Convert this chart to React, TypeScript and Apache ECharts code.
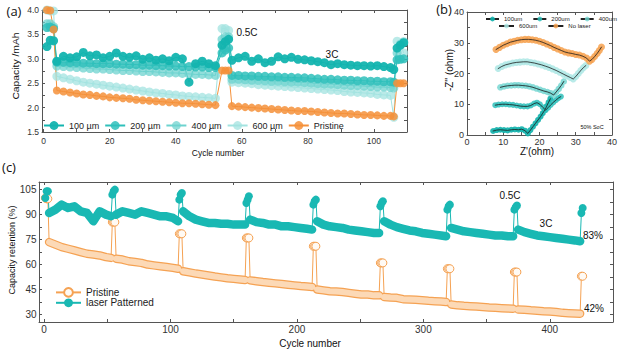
import React, { useEffect, useRef } from "react";
import * as echarts from "echarts";

// ---------- Panel (a): capacity vs cycle ----------
const cyclesA = [1, 2, 3, 4, 6, 8, 10, 12, 14, 16, 18, 20, 22, 24, 26, 28, 30, 32, 34, 36, 38, 40, 42, 44, 46, 48, 50, 52, 54, 55, 56, 57, 59, 61, 63, 65, 67, 69, 71, 73, 75, 77, 79, 81, 83, 85, 87, 89, 91, 93, 95, 97, 99, 101, 103, 105, 106, 107, 108, 109];
const cap100 = [3.25, 3.38, 3.37,
  2.95, 3.05, 3.02, 3.04, 3.13, 3.06, 3.08, 3.02, 3.05, 3.12, 3.05, 3.03, 3.06, 2.99, 3.02, 2.97, 3.0, 2.96, 3.03, 3.0, 2.52, 2.9, 2.95, 2.9, 2.86,
  3.28, 3.35, 3.4,
  2.97, 3.02, 3.05, 2.95, 3.0, 2.92, 2.95, 3.04, 3.0, 3.03, 2.99, 2.98, 2.96, 2.94, 2.92, 2.88, 2.9, 2.88, 2.87, 2.86, 2.86, 2.85, 2.86, 2.84, 2.82, 2.78,
  3.22, 3.28, 3.33];
const cap200 = [3.64, 3.65, 3.62,
  2.93, 2.93, 2.92, 2.92, 2.91, 2.91, 2.9, 2.9, 2.9, 2.89, 2.89, 2.88, 2.88, 2.87, 2.87, 2.86, 2.86, 2.85, 2.85, 2.84, 2.84, 2.83, 2.83, 2.82, 2.82,
  3.12, 3.18, 3.22,
  2.66, 2.66, 2.65, 2.65, 2.64, 2.64, 2.63, 2.63, 2.62, 2.62, 2.61, 2.61, 2.6, 2.59, 2.58, 2.58, 2.57, 2.56, 2.56, 2.55, 2.55, 2.54, 2.54, 2.53, 2.53, 2.52,
  2.98, 2.99, 3.0];
const cap400 = [3.72, 3.72, 3.66,
  2.85, 2.84, 2.83, 2.82, 2.81, 2.8, 2.79, 2.79, 2.78, 2.77, 2.76, 2.76, 2.75, 2.74, 2.74, 2.73, 2.72, 2.71, 2.71, 2.7, 2.69, 2.68, 2.68, 2.67, 2.66,
  3.4, 3.45, 3.45,
  2.58, 2.58, 2.57, 2.56, 2.56, 2.55, 2.54, 2.54, 2.53, 2.52, 2.52, 2.51, 2.5, 2.49, 2.48, 2.48, 2.47, 2.46, 2.45, 2.45, 2.44, 2.43, 2.42, 2.42, 2.41, 2.4,
  3.12, 3.3, 3.35];
const cap600 = [4.0, 3.98, 3.98,
  2.64, 2.61, 2.58, 2.55, 2.52, 2.5, 2.48, 2.46, 2.44, 2.42, 2.4, 2.38, 2.36, 2.34, 2.32, 2.3, 2.29, 2.27, 2.26, 2.24, 2.23, 2.22, 2.21, 2.2, 2.19,
  3.62, 3.62, 3.58,
  2.52, 2.51, 2.5, 2.49, 2.47, 2.46, 2.45, 2.44, 2.43, 2.42, 2.41, 2.4, 2.39, 2.38, 2.37, 2.36, 2.35, 2.33, 2.32, 2.31, 2.3, 2.29, 2.27, 2.26, 2.25, 1.8,
  3.36, 3.3, 3.12];
const capPristine = [4.0, 3.99, 3.6,
  2.35, 2.33, 2.31, 2.29, 2.27, 2.26, 2.24, 2.23, 2.21, 2.2, 2.19, 2.18, 2.16, 2.15, 2.14, 2.13, 2.12, 2.11, 2.1, 2.09, 2.09, 2.08, 2.07, 2.06, 2.05,
  2.76, 2.76, 2.76,
  2.03, 2.02, 2.01, 2.0, 1.99, 1.98, 1.97, 1.96, 1.95, 1.94, 1.93, 1.93, 1.92, 1.91, 1.9, 1.89, 1.88, 1.88, 1.87, 1.86, 1.85, 1.85, 1.84, 1.83, 1.83, 1.82,
  2.5, 2.5, 2.5];
const ticksAx = [0, 10, 20, 30, 40, 50, 60, 70, 80, 90, 100, 110];
const labelsAx = [0, 20, 40, 60, 80, 100];
const ticksAy = [1.5, 1.75, 2.0, 2.25, 2.5, 2.75, 3.0, 3.25, 3.5, 3.75, 4.0];
const labelsAy = [1.5, 2.0, 2.5, 3.0, 3.5, 4.0];

// ---------- Panel (b): Nyquist ----------
const z100Re = [7.2, 8.2, 9.2, 10.2, 11.2, 12.2, 13.2, 14.2, 15.1, 16.0, 16.8, 17.5, 18.2, 18.9, 19.6, 20.3, 20.9, 21.5, 22.0, 22.5, 23.0];
const z100Im = [1.3, 1.6, 1.7, 1.6, 1.5, 1.7, 1.8, 1.7, 1.9, 1.4, 0.5, 1.6, 2.7, 3.8, 4.9, 6.0, 7.1, 8.2, 9.4, 10.6, 11.8];
const z200Re = [7.8, 8.7, 9.7, 10.7, 11.7, 12.7, 13.7, 14.7, 15.7, 16.7, 17.6, 18.5, 19.3, 20.1, 20.9, 21.7, 22.4, 23.1, 23.8, 24.5, 25.2, 25.9];
const z200Im = [9.7, 9.9, 10.0, 10.0, 9.9, 9.8, 9.6, 9.4, 9.3, 9.3, 9.6, 10.2, 10.5, 10.0, 9.0, 8.1, 8.9, 9.8, 10.6, 11.3, 12.0, 12.5];
const z400Re = [9.2, 10.2, 11.2, 12.2, 13.2, 14.2, 15.2, 16.2, 17.2, 18.2, 19.2, 20.2, 21.2, 22.2, 23.1, 23.9, 24.6, 25.3, 26.0, 26.7];
const z400Im = [15.5, 15.8, 16.0, 16.1, 16.2, 16.2, 16.1, 16.0, 15.8, 15.5, 15.1, 14.7, 14.3, 14.0, 13.6, 13.0, 14.0, 15.0, 16.1, 17.4];
const z600Re = [8.6, 9.6, 10.6, 11.6, 12.6, 13.6, 14.6, 15.6, 16.6, 17.6, 18.6, 19.6, 20.6, 21.6, 22.6, 23.6, 24.6, 25.6, 26.6, 27.6, 28.5, 29.3, 30.0, 30.7, 31.4, 32.1, 32.8];
const z600Im = [21.6, 22.3, 22.8, 23.1, 23.4, 23.6, 23.7, 23.8, 23.8, 23.6, 23.4, 23.1, 22.8, 22.4, 22.0, 21.5, 21.0, 20.4, 19.8, 19.2, 18.7, 18.2, 19.0, 20.0, 21.0, 21.9, 22.6];
const zNoRe = [8.0, 9.0, 10.0, 11.0, 12.0, 13.0, 14.0, 15.0, 16.0, 17.0, 18.0, 19.0, 20.0, 21.0, 22.0, 23.0, 24.0, 25.0, 26.0, 27.0, 28.0, 29.0, 30.0, 31.0, 32.0, 33.0, 33.8, 34.5, 35.2, 35.9, 36.5, 37.1];
const zNoIm = [27.8, 28.5, 29.2, 29.7, 30.2, 30.5, 30.8, 31.0, 31.1, 31.1, 31.0, 30.8, 30.5, 30.1, 29.6, 29.1, 28.5, 28.0, 27.5, 27.0, 26.7, 26.5, 26.2, 26.0, 25.6, 25.0, 24.0, 24.6, 25.5, 26.5, 27.5, 28.6];
const ticksB = [0, 5, 10, 15, 20, 25, 30, 35, 40];
const labelsB = [0, 10, 20, 30, 40];

// ---------- Panel (c): retention ----------
const cyclesC = [1, 2, 3,
  4, 9, 14, 19, 24, 29, 34, 39, 44, 49, 53, 54, 55, 56,
  57, 62, 67, 72, 77, 82, 87, 92, 97, 102, 106, 107, 108, 109,
  110, 115, 120, 125, 130, 135, 140, 145, 150, 155, 159, 160, 161, 162,
  163, 168, 173, 178, 183, 188, 193, 198, 203, 208, 212, 213, 214, 215,
  216, 221, 226, 231, 236, 241, 246, 251, 256, 261, 265, 266, 267, 268,
  269, 274, 279, 284, 289, 294, 299, 304, 309, 314, 318, 319, 320, 321,
  322, 327, 332, 337, 342, 347, 352, 357, 362, 367, 371, 372, 373, 374,
  375, 380, 385, 390, 395, 400, 405, 410, 415, 420, 424, 425, 426];
// cycles run at 0.5C (the short spikes); all others are 3C
const slowCyclesC = [1, 2, 3, 54, 55, 56, 107, 108, 109, 160, 161, 162, 213, 214, 215, 266, 267, 268, 319, 320, 321, 372, 373, 374, 425, 426];
const retLaser = [100, 104, 104,
  91, 93, 96, 94, 95, 92, 91, 86, 92, 90, 89, 102, 104, 105,
  90, 92, 91, 90, 92, 91, 90, 89, 89, 88, 86, 99, 102, 103,
  92, 89, 87, 86, 85, 85, 84.5, 84.5, 84, 84, 84, 97, 99, 101,
  87, 85.5, 85, 84, 84, 83, 83, 82.5, 82, 81.5, 81, 96, 98, 99,
  86, 84, 83, 82.5, 82, 81, 80.5, 80, 79.5, 79, 79, 95, 97, 98,
  86, 84, 82.5, 81.5, 80.5, 80, 79, 78.5, 78, 77.5, 77, 93, 95, 96,
  82, 81, 80, 79.5, 79, 78.5, 78, 77.5, 77.5, 77, 77, 93, 94.5, 95.5,
  81, 79.5, 78.5, 77.5, 77, 76.5, 76, 75.5, 75, 74.5, 74, 91, 94];
const retPristine = [100, 99.5, 99.5,
  73.5, 72, 70.5, 69.5, 68.5, 67.5, 66.5, 66, 65.5, 64.5, 64, 85.5, 85.5, 85.5,
  63.5, 63, 62, 61.5, 61, 60, 59.5, 59, 58.5, 58, 57.5, 78.5, 78.5, 78.5,
  56, 55.3, 54.6, 54, 53.4, 52.8, 52.3, 51.8, 51.4, 51, 50.7, 76, 76, 76,
  50.5, 50, 49.5, 49.1, 48.7, 48.3, 47.9, 47.5, 47.1, 46.8, 46.5, 71, 71, 71,
  45, 44.5, 44, 43.8, 43.5, 43, 42.5, 42, 42, 41.5, 41.5, 61, 61, 61,
  40.5, 40.2, 40, 39.2, 39, 38.8, 38.5, 38.2, 38, 37.8, 37.5, 57.5, 57.5, 57.5,
  36, 35.5, 35.2, 35, 34.8, 34.5, 34.2, 34, 33.8, 33.6, 33.5, 55.5, 55.5, 55.5,
  33, 32.8, 32.5, 32.3, 32, 31.8, 31.5, 31, 30.8, 30.6, 30.5, 53, 53];
const ticksCx = [0, 50, 100, 150, 200, 250, 300, 350, 400, 450];
const labelsCx = [0, 100, 200, 300, 400];
const ticksCy = [30, 37.5, 45, 52.5, 60, 67.5, 75, 82.5, 90, 97.5, 105];
const labelsCy = [30, 45, 60, 75, 90, 105];

const FONT = "'Liberation Sans', Arial, sans-serif";
const AX = "#555";
const TEAL = "#13b4af";
const ORANGE = "#f5913a";
const C_TEAL = "#19b8b3";
const C_ORANGE = "#f5a253";

const pairs = (xs: number[], ys: number[]) => xs.map((x, i) => [x, ys[i]]);

function mkAxis(gridIndex: number, position: string, min: number, max: number, ticks: number[], labels: number[] | null, fontSize: number, margin: number, formatter?: any) {
  return {
    type: "value",
    gridIndex,
    position,
    min,
    max,
    axisLine: { show: true, onZero: false, lineStyle: { color: AX, width: 1 } },
    axisTick: { show: true, inside: true, length: 3, customValues: ticks, lineStyle: { color: AX } },
    axisLabel: labels
      ? { show: true, customValues: labels, fontSize, margin, color: "#333", fontFamily: FONT, formatter }
      : { show: false },
    splitLine: { show: false },
  };
}

function lineSeries(name: string, ax: number, data: any[], color: string, size: any, opacity: number, extra: any = {}) {
  return {
    name,
    type: "line",
    xAxisIndex: ax,
    yAxisIndex: ax,
    data,
    symbol: "circle",
    symbolSize: size,
    showSymbol: true,
    itemStyle: { color, opacity },
    lineStyle: { color, width: 1 },
    emphasis: { disabled: true },
    ...extra,
  };
}

function plainLine(key: string, ax: number, data: any[], color: string, width: number, z: number) {
  return {
    name: "_line_" + key,
    type: "line",
    xAxisIndex: ax,
    yAxisIndex: ax,
    data,
    symbol: "none",
    showSymbol: false,
    connectNulls: false,
    lineStyle: { color, width, cap: "round", join: "round" },
    z,
    emphasis: { disabled: true },
  };
}

const txt = (text: string, x: number, y: number, fontSize: number, extra: any = {}, family: string = FONT) => ({
  type: "text",
  x,
  y,
  silent: true,
  style: { text, fontSize, fontFamily: family, fill: "#111", align: "center", verticalAlign: "middle" },
  ...extra,
});

export default function App() {
  const ref = useRef<HTMLDivElement>(null);
  useEffect(() => {
    if (!ref.current) return;
    const chart = echarts.init(ref.current, undefined, { renderer: "svg" });
    const fmt1 = (v: number) => v.toFixed(1);
    const bLine = { lineStyle: { color: "#222", width: 0.8 } };

    const slow = new Set(slowCyclesC);
    // 3C bands (0.5C cycles left out so each band breaks at the spikes)
    const band = (vals: number[]) => cyclesC.map((c, i) => [c, slow.has(c) ? "-" : vals[i]]);
    const spikeSize = (_v: any, p: any) => (slow.has(cyclesC[p.dataIndex]) ? 8 : 0);

    const option: any = {
      animation: false,
      grid: [
        { left: 42, top: 10, width: 365, height: 122 },
        { left: 467, top: 12, width: 145, height: 123 },
        { left: 39, top: 182, width: 574, height: 140 },
      ],
      xAxis: [
        mkAxis(0, "bottom", -0.5, 110, ticksAx, labelsAx, 8.5, 4),
        mkAxis(0, "top", -0.5, 110, ticksAx, null, 8, 2),
        mkAxis(1, "bottom", 0, 40, ticksB, labelsB, 9, 2),
        mkAxis(1, "top", 0, 40, ticksB, null, 9, 2),
        mkAxis(2, "bottom", -4, 450, ticksCx, labelsCx, 10, 2),
        mkAxis(2, "top", -4, 450, ticksCx, null, 10, 2),
      ],
      yAxis: [
        mkAxis(0, "left", 1.5, 4.0, ticksAy, labelsAy, 8.5, 3, fmt1),
        mkAxis(0, "right", 1.5, 4.0, ticksAy, null, 8, 2),
        mkAxis(1, "left", 0, 40, ticksB, labelsB, 9, 3),
        mkAxis(1, "right", 0, 40, ticksB, null, 9, 2),
        mkAxis(2, "left", 25.5, 109.6, ticksCy, labelsCy, 10, 2.5),
        mkAxis(2, "right", 25.5, 109.6, ticksCy, null, 10, 2),
      ],
      legend: [
        {
          data: ["100 µm", "200 µm", "400 µm", "600 µm", "Pristine"],
          left: 43, top: 121, padding: 0, itemWidth: 20, itemHeight: 11, itemGap: 5,
          selectedMode: false,
          textStyle: { fontSize: 9, fontFamily: FONT, color: "#222" },
        },
        {
          data: ["100um", "200um", "400um"],
          left: 485, top: 16, width: 200, padding: 0, itemWidth: 13, itemHeight: 6, itemGap: 10,
          selectedMode: false,
          textStyle: { fontSize: 6, fontFamily: FONT, color: "#222" },
        },
        {
          data: ["600um", "No laser"],
          left: 498, top: 23, width: 200, padding: 0, itemWidth: 15, itemHeight: 6, itemGap: 10,
          selectedMode: false,
          textStyle: { fontSize: 6, fontFamily: FONT, color: "#222" },
        },
        {
          data: ["Pristine ", "laser Patterned"],
          orient: "vertical",
          left: 55, top: 287, padding: 0, itemWidth: 25, itemHeight: 11, itemGap: 0,
          selectedMode: false,
          formatter: (n: string) => n.trim(),
          textStyle: { fontSize: 10, fontFamily: FONT, color: "#222" },
        },
      ],
      series: [
        // (a)
        lineSeries("600 µm", 0, pairs(cyclesA, cap600), "#a3e3e0", 9, 0.75),
        lineSeries("400 µm", 0, pairs(cyclesA, cap400), "#6dd3cf", 9, 0.75),
        lineSeries("200 µm", 0, pairs(cyclesA, cap200), "#2fc0bb", 9, 0.85),
        lineSeries("100 µm", 0, pairs(cyclesA, cap100), TEAL, 9, 0.95),
        lineSeries("Pristine", 0, pairs(cyclesA, capPristine), ORANGE, 8, 0.85),
        // (b)
        lineSeries("100um", 2, pairs(z100Re, z100Im), "#11b1ac", 6, 0.9, bLine),
        lineSeries("200um", 2, pairs(z200Re, z200Im), "#2fc0bb", 6, 0.85, bLine),
        lineSeries("400um", 2, pairs(z400Re, z400Im), "#6fd4d0", 6.5, 0.8, bLine),
        lineSeries("600um", 2, pairs(z600Re, z600Im), "#aee8e5", 7, 0.85, bLine),
        lineSeries("No laser", 2, pairs(zNoRe, zNoIm), "#f6a14f", 7, 0.85, bLine),
        plainLine("100", 2, pairs(z100Re, z100Im), "#222", 0.8, 10),
        plainLine("200", 2, pairs(z200Re, z200Im), "#222", 0.8, 10),
        plainLine("400", 2, pairs(z400Re, z400Im), "#222", 0.8, 10),
        plainLine("600", 2, pairs(z600Re, z600Im), "#222", 0.8, 10),
        plainLine("no", 2, pairs(zNoRe, zNoIm), "#222", 0.8, 10),
        // (c) thin connecting lines + 0.5C markers
        lineSeries("Pristine ", 4, pairs(cyclesC, retPristine), "#fffaf4", spikeSize, 1, {
          itemStyle: { color: "#fffaf4", borderColor: C_ORANGE, borderWidth: 1 },
          lineStyle: { color: C_ORANGE, width: 1 },
          z: 2,
        }),
        lineSeries("laser Patterned", 4, pairs(cyclesC, retLaser), C_TEAL, spikeSize, 1, { z: 2 }),
        // (c) thick 3C bands drawn from the same values
        plainLine("pb1", 4, band(retPristine), C_ORANGE, 8.5, 3),
        plainLine("pb2", 4, band(retPristine), "#fcd9b6", 6, 4),
        plainLine("lb", 4, band(retLaser), C_TEAL, 8.5, 3),
      ],
      graphic: [
        txt("(a)", 14, 11, 13, {}, "'Open Sans', sans-serif"),
        txt("(b)", 444, 9, 13, {}, "'Open Sans', sans-serif"),
        txt("(c)", 9, 167, 13, {}, "'Open Sans', sans-serif"),
        txt("Capacity /mAh", 16, 66, 9, { rotation: Math.PI / 2, scaleX: 1.15 }),
        txt("Cycle number", 218, 153, 8.5),
        txt("0.5C", 247, 32, 10),
        txt("3C", 332, 54, 10),
        txt("-Z'' (ohm)", 449, 70, 10, { rotation: Math.PI / 2 }),
        txt("Z'(ohm)", 537, 151, 10),
        txt("50% SoC", 592, 126.5, 5.5),
        txt("Capacity retention (%)", 12, 250, 9, { rotation: Math.PI / 2 }),
        txt("Cycle number", 310, 343, 10),
        txt("0.5C", 510, 195, 10),
        txt("3C", 546, 223, 10),
        txt("83%", 593, 235, 10),
        txt("42%", 594, 308, 10),
      ],
    };
    chart.setOption(option);
    return () => chart.dispose();
  }, []);
  return <div ref={ref} style={{ position: "fixed", left: 0, top: 0, width: 620, height: 352, background: "#fff" }} />;
}
